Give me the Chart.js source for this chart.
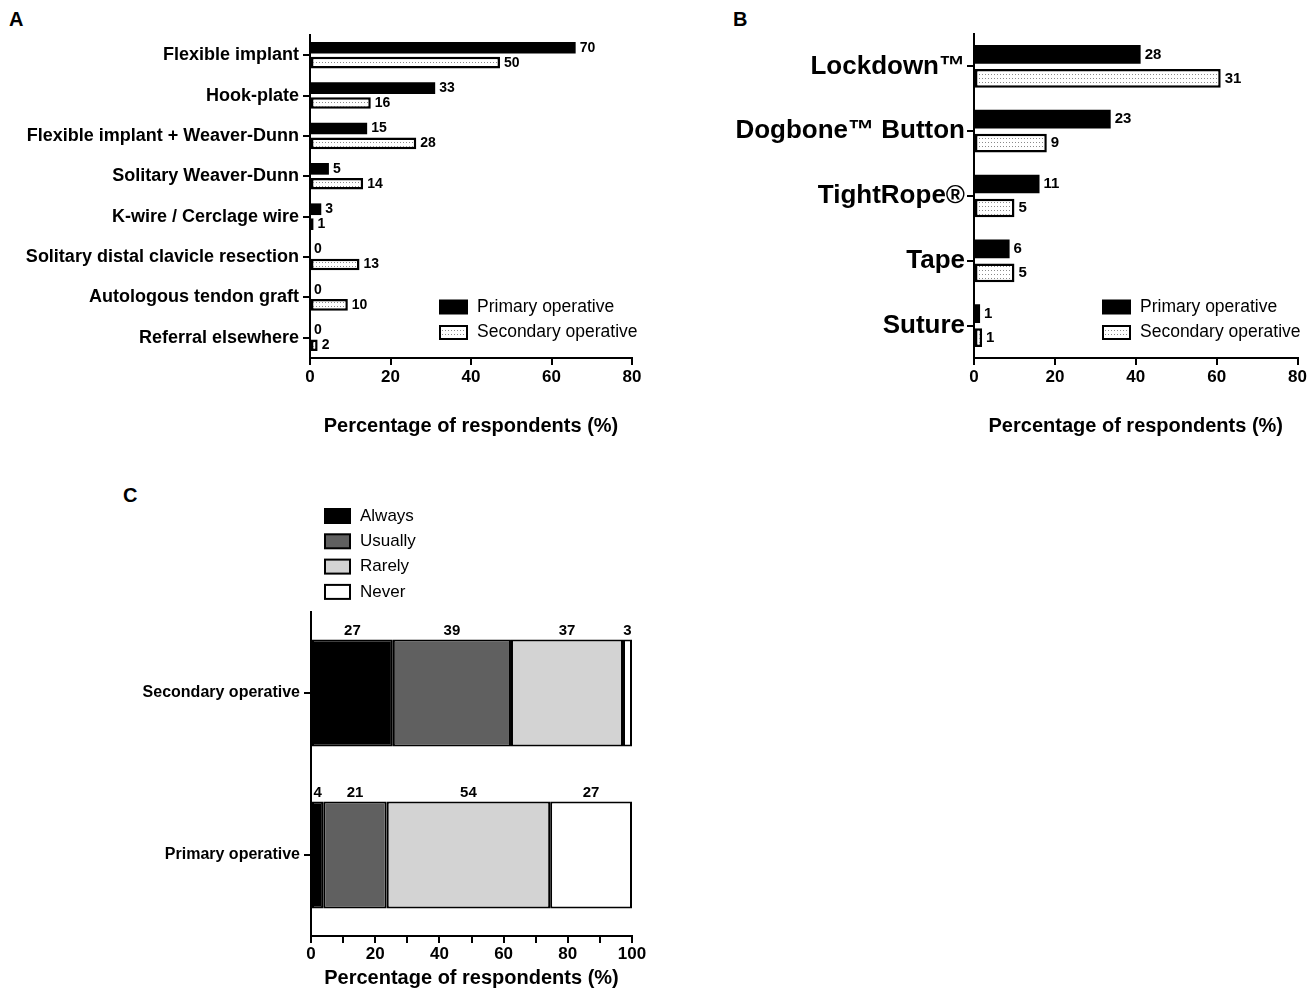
<!DOCTYPE html>
<html>
<head>
<meta charset="utf-8">
<script src="https://cdn.jsdelivr.net/npm/chart.js@4.4.0/dist/chart.umd.min.js"></script>
<style>
  body { margin: 0; background: #fff; width: 1309px; height: 990px; position: relative; overflow: hidden;
         font-family: "Liberation Sans", Arial, sans-serif; }
  canvas { position: absolute; }
  .tag { position: absolute; font-weight: bold; font-size: 20px; }
</style>
</head>
<body>
<div class="tag" style="left:9px;top:8px">A</div>
<div class="tag" style="left:733px;top:8px">B</div>
<div class="tag" style="left:123px;top:484px">C</div>
<canvas id="chartA" width="660" height="450" style="left:0;top:0"></canvas>
<canvas id="chartB" width="649" height="450" style="left:660px;top:0"></canvas>
<canvas id="chartC" width="660" height="510" style="left:0;top:480px"></canvas>
<script>
// ---- panel A: procedures ----
const procLabels = ["Flexible implant", "Hook-plate", "Flexible implant + Weaver-Dunn", "Solitary Weaver-Dunn",
  "K-wire / Cerclage wire", "Solitary distal clavicle resection", "Autologous tendon graft", "Referral elsewhere"];
const procPrimary = [66.0, 31.1, 14.2, 4.7, 2.8, 0, 0, 0];          // % of respondents
const procSecondary = [47.2, 15.1, 26.4, 13.2, 0.9, 12.3, 9.4, 1.9];
const procPrimaryN = [70, 33, 15, 5, 3, 0, 0, 0];                   // counts shown next to bars
const procSecondaryN = [50, 16, 28, 14, 1, 13, 10, 2];

// ---- panel B: devices ----
const deviceLabels = ["Lockdown™", "Dogbone™ Button", "TightRope®", "Tape", "Suture"];
const devicePrimary = [41.2, 33.8, 16.2, 8.8, 1.5];
const deviceSecondary = [61.0, 18.0, 10.0, 10.0, 2.0];
const devicePrimaryN = [28, 23, 11, 6, 1];
const deviceSecondaryN = [31, 9, 5, 5, 1];

// ---- panel C: frequency ----
const freqLabels = ["Secondary operative", "Primary operative"];
const freqAlways = [25.5, 3.8];
const freqUsually = [36.8, 19.8];
const freqRarely = [34.9, 50.9];
const freqNever = [2.8, 25.5];
const freqAlwaysN = [27, 4];
const freqUsuallyN = [39, 21];
const freqRarelyN = [37, 54];
const freqNeverN = [3, 27];

const seriesNames = ["Primary operative", "Secondary operative"];
const freqNames = ["Always", "Usually", "Rarely", "Never"];
const axisTitle = "Percentage of respondents (%)";
const FONT = "'Liberation Sans', Arial, sans-serif";

// dotted fill for the secondary bars
function dotPattern() {
  const c = document.createElement("canvas");
  c.width = 3; c.height = 4;
  const g = c.getContext("2d");
  g.fillStyle = "#fff"; g.fillRect(0, 0, 3, 4);
  g.fillStyle = "#8a8a8a"; g.fillRect(1, 2, 1, 1);
  return g.createPattern(c, "repeat");
}
const dots = dotPattern();

// numbers next to / above bars
const valueLabels = {
  id: "valueLabels",
  afterDatasetsDraw(chart, args, opts) {
    const ctx = chart.ctx;
    ctx.save();
    ctx.font = opts.font;
    ctx.fillStyle = "#000";
    opts.counts.forEach((list, i) => {
      chart.getDatasetMeta(i).data.forEach((bar, j) => {
        const p = bar.getProps(["x", "y", "base", "height"], true);
        const txt = String(list[j]);
        if (opts.mode === "end") {
          ctx.textAlign = "left"; ctx.textBaseline = "middle";
          ctx.fillText(txt, Math.max(p.x, p.base) + opts.gap, p.y);
        } else {
          ctx.textAlign = "center"; ctx.textBaseline = "alphabetic";
          ctx.fillText(txt, (p.x + p.base) / 2, p.y - p.height / 2 - opts.gap);
        }
      });
    });
    ctx.restore();
  }
};

// legend drawn with outlined boxes at a fixed spot
const boxLegend = {
  id: "boxLegend",
  afterDraw(chart, args, opts) {
    const ctx = chart.ctx;
    ctx.save();
    ctx.font = opts.font;
    ctx.textAlign = "left"; ctx.textBaseline = "middle";
    opts.items.forEach((it, i) => {
      const y = opts.y + i * opts.step;
      ctx.fillStyle = it.fill;
      ctx.fillRect(opts.x, y - opts.h / 2, opts.w, opts.h);
      ctx.lineWidth = 2; ctx.strokeStyle = "#000";
      ctx.strokeRect(opts.x, y - opts.h / 2, opts.w, opts.h);
      ctx.fillStyle = "#000";
      ctx.fillText(it.label, opts.x + opts.w + 10, y);
    });
    ctx.restore();
  }
};

Chart.defaults.font.family = FONT;
Chart.defaults.color = "#000";

function sideBarChart(id, labels, prim, sec, primN, secN, o) {
  return new Chart(document.getElementById(id), {
    type: "bar",
    data: {
      labels: labels,
      datasets: [
        { label: seriesNames[0], data: prim, backgroundColor: "#000", borderColor: "#000", borderWidth: 0,
          categoryPercentage: 0.74, barPercentage: 0.78 },
        { label: seriesNames[1], data: sec, backgroundColor: dots, borderColor: "#000", borderWidth: 2.5,
          borderSkipped: false, categoryPercentage: 0.74, barPercentage: 0.78 }
      ]
    },
    options: {
      indexAxis: "y",
      responsive: false,
      animation: false,
      layout: { padding: { top: o.top, right: o.right, left: 0, bottom: 0 } },
      scales: {
        x: {
          min: 0, max: 80,
          ticks: { stepSize: 20, padding: 2, maxRotation: 0, font: { size: 17, weight: "bold" } },
          grid: { drawOnChartArea: false, color: "#000", lineWidth: 2, tickLength: 7 },
          border: { color: "#000", width: 2 },
          title: { display: true, text: axisTitle, font: { size: 20, weight: "bold" }, padding: { top: 0, bottom: 12 } },
          afterFit: s => { s.height = 92; }
        },
        y: {
          ticks: { padding: o.tickPad, font: { size: o.labelSize, weight: "bold" } },
          grid: { drawOnChartArea: false, offset: false, color: "#000", lineWidth: 2, tickLength: 7 },
          border: { color: "#000", width: 2 },
          afterFit: s => { s.width = o.axisLeft; }
        }
      },
      plugins: {
        legend: { display: false },
        tooltip: { enabled: false },
        valueLabels: { counts: [primN, secN], mode: "end", gap: 4, font: "bold " + o.valueSize + "px " + FONT },
        boxLegend: { x: o.legendX, y: 307, step: 25.5, w: 27, h: 13, font: "17.5px " + FONT,
          items: [{ label: seriesNames[0], fill: "#000" }, { label: seriesNames[1], fill: dots }] }
      }
    },
    plugins: [valueLabels, boxLegend]
  });
}

sideBarChart("chartA", procLabels, procPrimary, procSecondary, procPrimaryN, procSecondaryN,
  { top: 35, right: 28, axisLeft: 310, tickPad: 4, labelSize: 18, valueSize: 14, legendX: 440 });
sideBarChart("chartB", deviceLabels, devicePrimary, deviceSecondary, devicePrimaryN, deviceSecondaryN,
  { top: 34, right: 10, axisLeft: 314, tickPad: 2, labelSize: 26, valueSize: 15, legendX: 443 });

// panel C: stacked
const freqFills = ["#000", "#606060", "#d3d3d3", "#fff"];
const freqData = [freqAlways, freqUsually, freqRarely, freqNever];
new Chart(document.getElementById("chartC"), {
  type: "bar",
  data: {
    labels: freqLabels,
    datasets: freqData.map((d, i) => ({
      label: freqNames[i], data: d, backgroundColor: freqFills[i], borderColor: "#000", borderWidth: 2,
      borderSkipped: false, categoryPercentage: 1, barPercentage: 0.66
    }))
  },
  options: {
    indexAxis: "y",
    responsive: false,
    animation: false,
    layout: { padding: { top: 132, right: 28, left: 0, bottom: 0 } },
    scales: {
      x: {
        stacked: true, min: 0, max: 100,
        ticks: { stepSize: 10, autoSkip: false, padding: 1, maxRotation: 0, minRotation: 0,
          font: { size: 17, weight: "bold" },
          callback: v => (v % 20 === 0 ? v : "") },
        grid: { drawOnChartArea: false, color: "#000", lineWidth: 2, tickLength: 7 },
        border: { color: "#000", width: 2 },
        title: { display: true, text: axisTitle, font: { size: 20, weight: "bold" }, padding: { top: 0, bottom: 0 } },
        afterFit: s => { s.height = 54; }
      },
      y: {
        stacked: true,
        ticks: { padding: 4, font: { size: 16, weight: "bold" } },
        grid: { drawOnChartArea: false, offset: false, color: "#000", lineWidth: 2, tickLength: 7 },
        border: { color: "#000", width: 2 },
        afterFit: s => { s.width = 311; }
      }
    },
    plugins: {
      legend: { display: false },
      tooltip: { enabled: false },
      valueLabels: { counts: [freqAlwaysN, freqUsuallyN, freqRarelyN, freqNeverN], mode: "top", gap: 5,
        font: "bold 15px " + FONT },
      boxLegend: { x: 325, y: 36, step: 25.3, w: 25, h: 14, font: "17px " + FONT,
        items: freqNames.map((n, i) => ({ label: n, fill: freqFills[i] })) }
    }
  },
  plugins: [valueLabels, boxLegend]
});
</script>
</body>
</html>
